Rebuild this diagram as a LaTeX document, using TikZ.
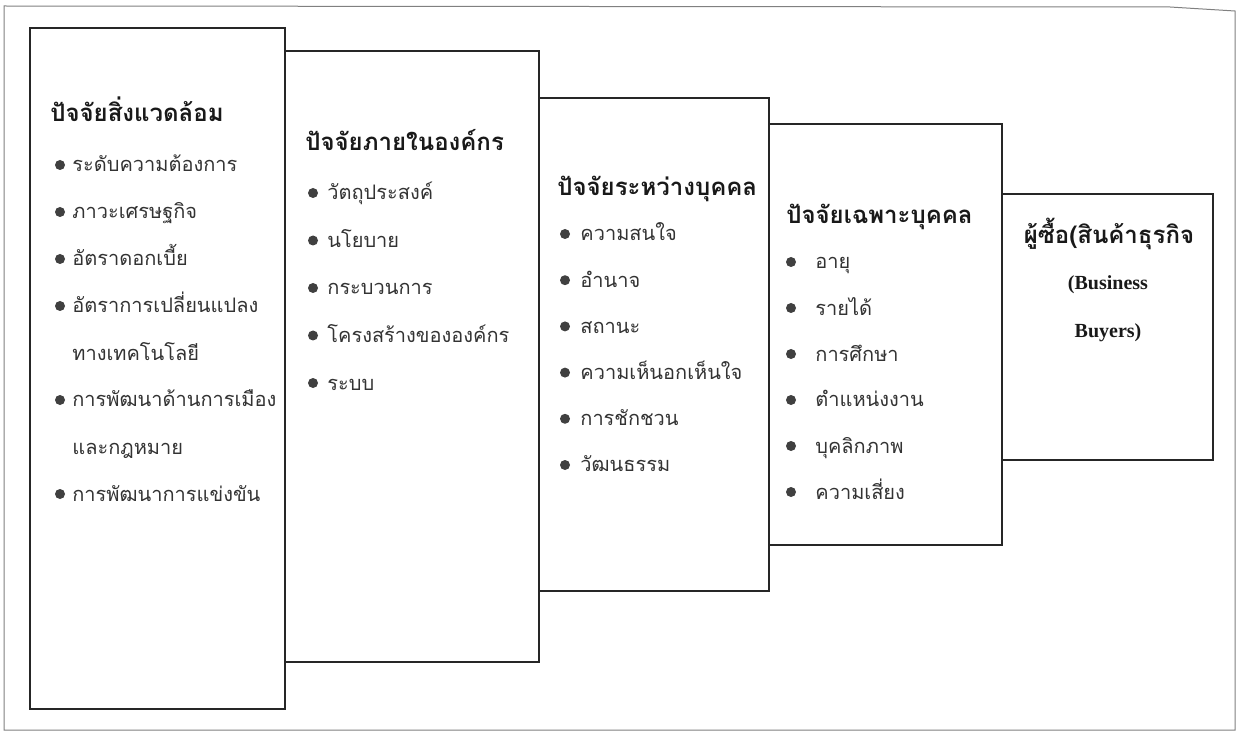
\documentclass[tikz,border=0pt]{standalone}
\usepackage{fontspec}
\setmainfont{Liberation Serif}
\newfontfamily\thai[Script=Thai]{Loma}

\tikzstyle{frame}=[draw=black!50, line width=0.5pt]
\tikzstyle{box}=[draw=black!85, line width=0.9pt]
\tikzstyle{head}=[anchor=base west, inner sep=0pt, text=black!90, font=\thai\bfseries\fontsize{12}{14}\selectfont]
\tikzstyle{item}=[anchor=base west, inner sep=0pt, text=black!80, font=\thai\fontsize{10}{12}\selectfont]
\tikzstyle{latin}=[anchor=base, inner sep=0pt, text=black!90, font=\bfseries\fontsize{10}{12}\selectfont]
\tikzstyle{dot}=[fill=black!75]

\begin{document}
\begin{tikzpicture}[x=0.5pt, y=-0.5pt]
	\useasboundingbox (0,0) rectangle (1239,733);

	% Rahmen
	\draw[frame] (4,6) -- (1170,7) -- (1235,11) -- (1235,730) -- (4,730) -- cycle;

	% Kaesten
	\draw[box] (30,28) rectangle (285,709);
	\draw[box] (285,51) rectangle (539,662);
	\draw[box] (539,98) rectangle (769,591);
	\draw[box] (769,124) rectangle (1002,545);
	\draw[box] (1002,194) rectangle (1213,460);

	% Ueberschriften
	\node(envHead) at (50,122) [head] {ปัจจัยสิ่งแวดล้อม};
	\node(orgHead) at (305,151) [head] {ปัจจัยภายในองค์กร};
	\node(interHead) at (557,196) [head] {ปัจจัยระหว่างบุคคล};
	\node(indHead) at (786,224) [head] {ปัจจัยเฉพาะบุคคล};
	\node(buyHead) at (1109,243) [head, anchor=base] {ผู้ซื้อ(สินค้าธุรกิจ};
	\node(buyEn) at (1108,290) [latin] {(Business};
	\node(buyEnB) at (1108,337) [latin] {Buyers)};

	% Spalte 1
	\foreach \txt/\b [count=\k] in {ระดับความต้องการ/1, ภาวะเศรษฐกิจ/1, อัตราดอกเบี้ย/1,
		อัตราการเปลี่ยนแปลง/1, ทางเทคโนโลยี/0, การพัฒนาด้านการเมือง/1, และกฎหมาย/0,
		การพัฒนาการแข่งขัน/1}
		{
			\node(env\k) at (72,{172+47*(\k-1)}) [item] {\txt};
			\ifnum\b=1 \fill[dot] (60,{165+47*(\k-1)}) circle (5); \fi
		}

	% Spalte 2
	\foreach \txt [count=\k] in {วัตถุประสงค์, นโยบาย, กระบวนการ, โครงสร้างขององค์กร, ระบบ}
		{
			\node(org\k) at (327,{200+47.5*(\k-1)}) [item] {\txt};
			\fill[dot] (313,{193+47.5*(\k-1)}) circle (5);
		}

	% Spalte 3
	\foreach \txt [count=\k] in {ความสนใจ, อำนาจ, สถานะ, ความเห็นอกเห็นใจ, การชักชวน, วัฒนธรรม}
		{
			\node(inter\k) at (580,{241+46.2*(\k-1)}) [item] {\txt};
			\fill[dot] (565,{234+46.2*(\k-1)}) circle (5);
		}

	% Spalte 4
	\foreach \txt [count=\k] in {อายุ, รายได้, การศึกษา, ตำแหน่งงาน, บุคลิกภาพ, ความเสี่ยง}
		{
			\node(ind\k) at (815,{269+46*(\k-1)}) [item] {\txt};
			\fill[dot] (791,{262+46*(\k-1)}) circle (5);
		}

\end{tikzpicture}
\end{document}
